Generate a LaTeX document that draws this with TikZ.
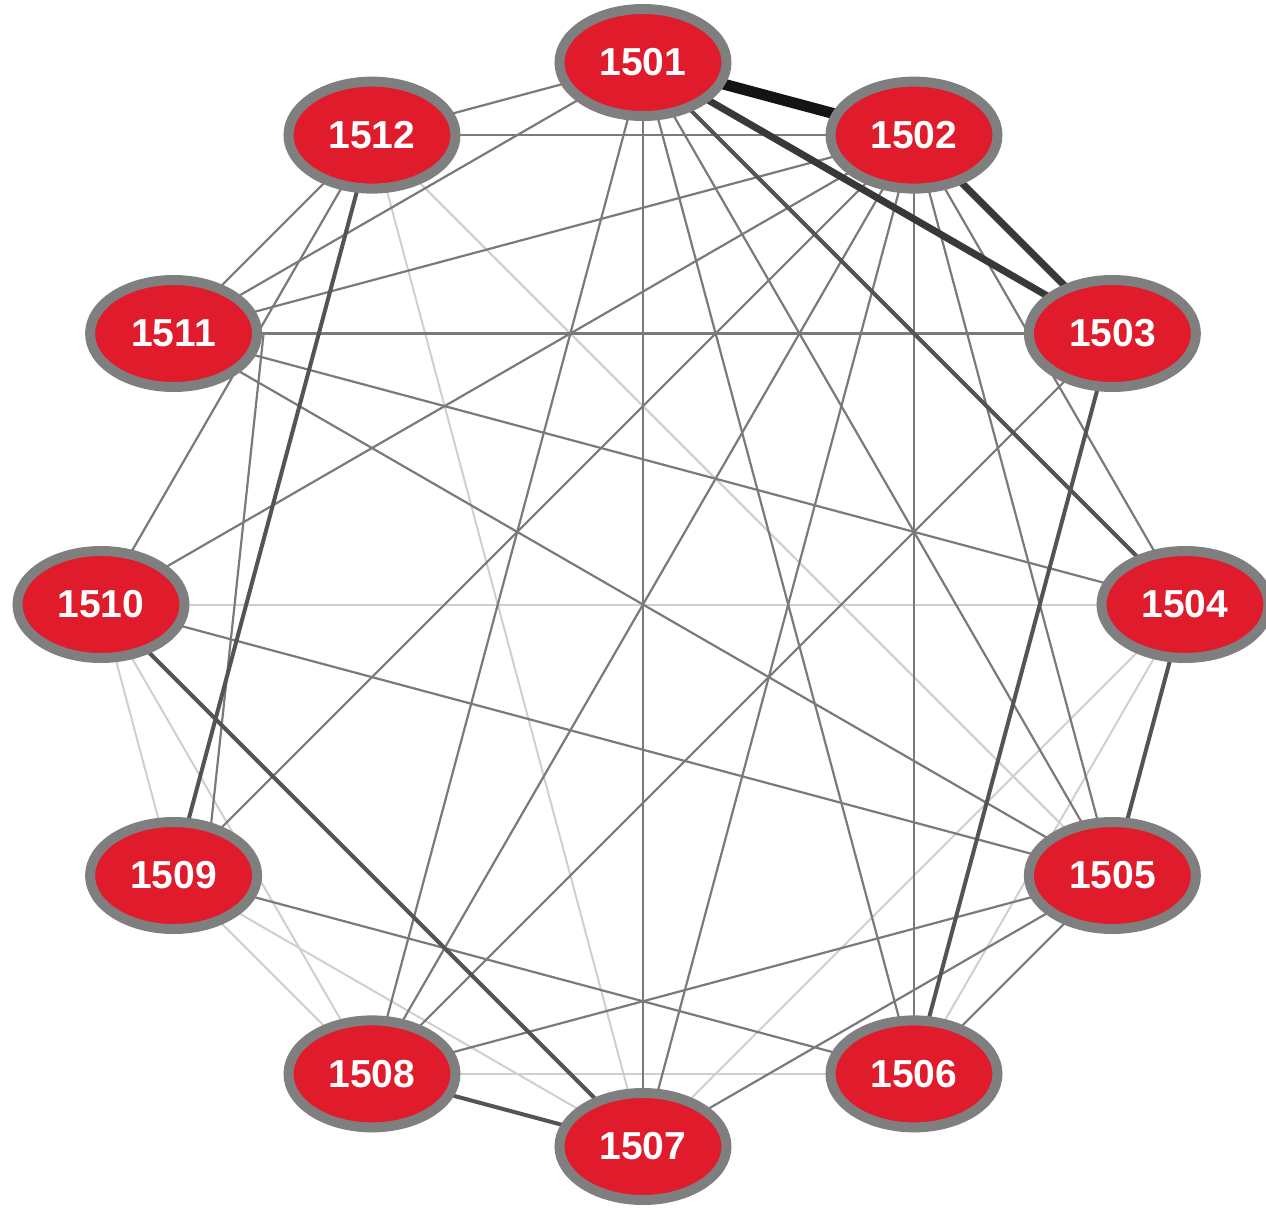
\documentclass[tikz,border=0pt]{standalone}
\usepackage{fontspec}
\setsansfont{Liberation Sans}
\usetikzlibrary{shapes.geometric,backgrounds}

\definecolor{stationred}{HTML}{E01B2B}
\definecolor{ringgray}{HTML}{7F7F7F}

\begin{document}
\begin{tikzpicture}[x=0.5pt,y=0.5pt]
	\tikzstyle{every node}=[ellipse,draw=ringgray,fill=stationred,line width=5pt,
		minimum width=83.5pt,minimum height=53.5pt,inner sep=0pt,
		text=white,font=\sffamily\bfseries\fontsize{19.5}{20}\selectfont]
	\tikzstyle{tie0}=[draw=black!19,line width=1pt]
	\tikzstyle{tie1}=[draw=black!52,line width=1.1pt]
	\tikzstyle{tie2}=[draw=black!67,line width=2pt]
	\tikzstyle{tie3}=[draw=black!78,line width=3.5pt]
	\tikzstyle{tie4}=[draw=black!92,line width=5.5pt]
	\useasboundingbox (-643,-602.5) rectangle (623,604.5);

	% stations on the ring
	\node (p1501) at (90:542) {1501};
	\node (p1502) at (60:542) {1502};
	\node (p1503) at (30:542) {1503};
	\node (p1504) at (0:542) {1504};
	\node (p1505) at (-30:542) {1505};
	\node (p1506) at (-60:542) {1506};
	\node (p1507) at (-90:542) {1507};
	\node (p1508) at (-120:542) {1508};
	\node (p1509) at (-150:542) {1509};
	\node (p1510) at (180:542) {1510};
	\node (p1511) at (150:542) {1511};
	\node (p1512) at (120:542) {1512};

	\begin{pgfonlayer}{background}
		% light links
		\draw[tie0] (p1512.center) -- (p1505.center);
		\draw[tie0] (p1512.center) -- (p1507.center);
		\draw[tie0] (p1510.center) -- (p1504.center);
		\draw[tie0] (p1504.center) -- (p1507.center);
		\draw[tie0] (p1504.center) -- (p1506.center);
		\draw[tie0] (p1508.center) -- (p1506.center);
		\draw[tie0] (p1509.center) -- (p1508.center);
		\draw[tie0] (p1509.center) -- (p1507.center);
		\draw[tie0] (p1510.center) -- (p1508.center);
		\draw[tie0] (p1510.center) -- (p1509.center);
		% gray links
		\draw[tie1] (p1501.center) -- (p1512.center);
		\draw[tie1] (p1501.center) -- (p1511.center);
		\draw[tie1] (p1501.center) -- (p1508.center);
		\draw[tie1] (p1501.center) -- (p1507.center);
		\draw[tie1] (p1501.center) -- (p1506.center);
		\draw[tie1] (p1501.center) -- (p1505.center);
		\draw[tie1] (p1502.center) -- (p1512.center);
		\draw[tie1] (p1502.center) -- (p1511.center);
		\draw[tie1] (p1502.center) -- (p1510.center);
		\draw[tie1] (p1502.center) -- (p1509.center);
		\draw[tie1] (p1502.center) -- (p1508.center);
		\draw[tie1] (p1502.center) -- (p1507.center);
		\draw[tie1] (p1502.center) -- (p1506.center);
		\draw[tie1] (p1502.center) -- (p1505.center);
		\draw[tie1] (p1502.center) -- (p1504.center);
		\draw[tie1] (p1503.center) -- (p1511.center);
		\draw[tie1] (p1503.center) -- (p1508.center);
		\draw[tie1] (p1504.center) -- (p1511.center);
		\draw[tie1] (p1505.center) -- (p1511.center);
		\draw[tie1] (p1505.center) -- (p1510.center);
		\draw[tie1] (p1505.center) -- (p1508.center);
		\draw[tie1] (p1505.center) -- (p1507.center);
		\draw[tie1] (p1505.center) -- (p1506.center);
		\draw[tie1] (p1506.center) -- (p1509.center);
		\draw[tie1] ([xshift=45]p1511.center) -- ([xshift=16]p1509.center);
		\draw[tie1] (p1510.center) -- (p1512.center);
		\draw[tie1] (p1511.center) -- (p1512.center);
		% strong links
		\draw[tie2] (p1501.center) -- (p1504.center);
		\draw[tie2] (p1503.center) -- (p1506.center);
		\draw[tie2] (p1504.center) -- (p1505.center);
		\draw[tie2] (p1512.center) -- (p1509.center);
		\draw[tie2] (p1510.center) -- (p1507.center);
		\draw[tie2] (p1508.center) -- (p1507.center);
		\draw[tie3] (p1501.center) -- (p1503.center);
		\draw[tie3] (p1502.center) -- (p1503.center);
		\draw[tie4] (p1501.center) -- (p1502.center);
	\end{pgfonlayer}
\end{tikzpicture}
\end{document}
